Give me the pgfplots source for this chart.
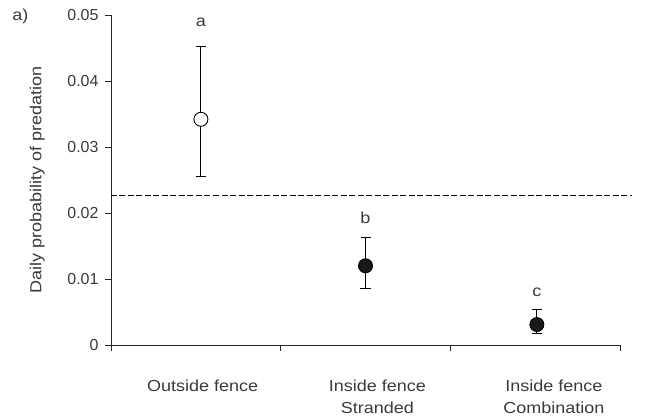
\documentclass[border=0pt]{standalone}
\usepackage{pgfplots}
\pgfplotsset{compat=1.18}
\usepackage{fontspec}
\setmainfont{Liberation Sans}
\newfontfamily\wide[FakeStretch=1.13]{Liberation Sans}
\definecolor{txt}{HTML}{3A3A3A}
\begin{document}
\begin{tikzpicture}
\begin{axis}[
  at={(0,0)}, anchor=south west,
  scale only axis, width=509bp, height=330bp,
  xmin=0, xmax=3, ymin=0, ymax=0.05,
  axis x line*=bottom, axis y line*=left,
  axis line style={-, line width=0.9bp, black!85},
  clip=false,
  scaled y ticks=false,
  tick align=outside, major tick length=6bp,
  tick style={line width=0.9bp, black!85},
  ytick={0,0.01,0.02,0.03,0.04,0.05},
  yticklabels={0,0.01,0.02,0.03,0.04,0.05},
  yticklabel style={font=\fontsize{16}{18}\selectfont, text=txt, xshift=-3bp},
  xtick={0,1,2,3}, xticklabels={},
  extra x ticks={0.54,1.57,2.61},
  extra x tick labels={Outside fence, Inside fence\\Stranded, Inside fence\\Combination},
  extra x tick style={major tick length=0pt, xticklabel style={align=center, font=\fontsize{16}{23}\wide, text=txt, yshift=-31bp}},
  ylabel={Daily probability of predation},
  ylabel style={at={(axis description cs:-0.145,0.5)}, anchor=center, font=\fontsize{16}{18}\wide, text=txt},
]
\addplot[black, dashed, dash pattern=on 6bp off 2.5bp, line width=0.9bp] coordinates {(0,0.0226) (3.07,0.0226)};
\addplot[only marks, mark=*, mark size=7bp, mark options={fill=white, draw=black, line width=0.9bp},
  error bars/.cd, y dir=both, y explicit,
  error bar style={line width=0.9bp, black},
  error mark options={rotate=90, mark size=5bp, line width=0.9bp, black}]
  coordinates {(0.53,0.0342) += (0,0.0111) -= (0,0.0086)};
\addplot[only marks, mark=*, mark size=7bp, mark options={fill=black!90, draw=black, line width=0.9bp},
  error bars/.cd, y dir=both, y explicit,
  error bar style={line width=0.9bp, black},
  error mark options={rotate=90, mark size=5bp, line width=0.9bp, black}]
  coordinates {(1.5,0.0120) += (0,0.0043) -= (0,0.0035)
               (2.51,0.0031) += (0,0.0023) -= (0,0.0013)};
\node[font=\fontsize{16}{18}\wide, text=txt] at (axis cs:0.53,0.0489) {a};
\node[font=\fontsize{16}{18}\wide, text=txt] at (axis cs:1.5,0.0192) {b};
\node[font=\fontsize{16}{18}\wide, text=txt] at (axis cs:2.51,0.0080) {c};
\node[font=\fontsize{16}{18}\wide, text=txt] at (axis description cs:-0.178,0.995) {a)};
\end{axis}
\pgfresetboundingbox
\path (-111bp,-75bp) rectangle (543bp,345bp);
\end{tikzpicture}
\end{document}
